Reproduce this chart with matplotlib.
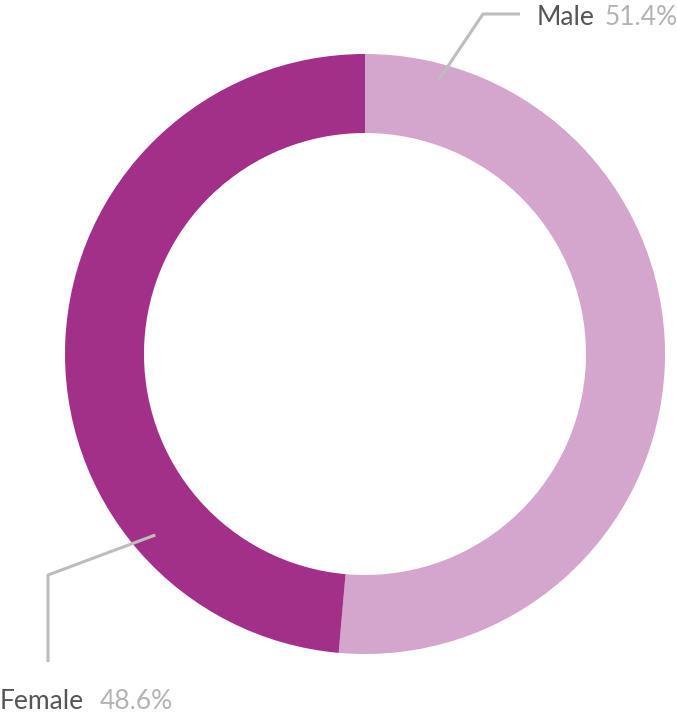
import numpy as np
import matplotlib.pyplot as plt

# Data -------------------------------------------------------------------
labels = ['Male', 'Female']
shares = [51.4, 48.6]
colors = ['#D4A5CD', '#A23089']

# Layout (pixel space, y up) ---------------------------------------------
W, H = 677, 717
cx, cy = 365, H - 354
r_out, ring = 300, 79

fig = plt.figure(figsize=(W / 100, H / 100), dpi=100)
ax = fig.add_axes([0, 0, 1, 1])
ax.set_xlim(0, W)
ax.set_ylim(0, H)
ax.set_aspect('equal')
ax.axis('off')

ax.pie(shares, colors=colors, startangle=90, counterclock=False,
       center=(cx, cy), radius=r_out,
       wedgeprops=dict(width=ring, linewidth=0))
ax.set_xlim(0, W)
ax.set_ylim(0, H)

line_kw = dict(color='#BDBDBD', lw=2.2, solid_capstyle='butt')
font = ['Lato', 'DejaVu Sans']
fs = 19

# Male leader + label
a = np.deg2rad(75)
p0 = (cx + 283 * np.cos(a), cy + 283 * np.sin(a))
ax.plot([p0[0], 483, 520], [p0[1], H - 14, H - 14], **line_kw)
ax.text(537, H - 25, labels[0], fontsize=fs, color='#555555',
        family=font, va='baseline', ha='left')
ax.text(605, H - 25, f'{shares[0]}%', fontsize=fs, color='#B3B3B3',
        family=font, va='baseline', ha='left')

# Female leader + label
a = np.deg2rad(220.8)
p1 = (cx + 277 * np.cos(a), cy + 277 * np.sin(a))
ax.plot([p1[0], 48, 48], [p1[1], H - 575, H - 662], **line_kw)
ax.text(0, H - 709, labels[1], fontsize=fs, color='#555555',
        family=font, va='baseline', ha='left')
ax.text(100, H - 709, f'{shares[1]}%', fontsize=fs, color='#B3B3B3',
        family=font, va='baseline', ha='left')

fig.savefig('out.png', dpi=100)
